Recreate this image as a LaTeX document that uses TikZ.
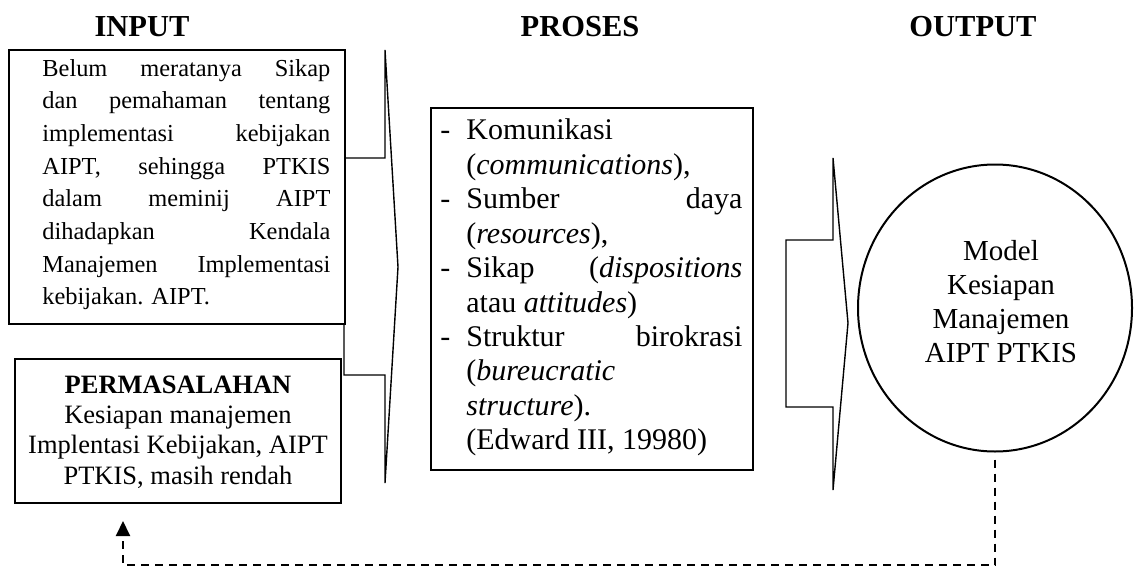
\documentclass[tikz,border=0pt]{standalone}
\usepackage{fontspec}
\setmainfont{Liberation Serif}
\usetikzlibrary{arrows.meta,shapes.geometric}
\begin{document}
\begin{tikzpicture}[x=0.5pt,y=-0.5pt,
  box/.style={draw, line width=1pt, fill=white, inner sep=0pt},
  blockarrow/.style={draw, line width=0.7pt, line join=miter, fill=white},
  heading/.style={font=\fontsize{15.25pt}{18pt}\selectfont\bfseries, anchor=base, inner sep=0pt},
  txt/.style={inner sep=0pt},
  feedback/.style={draw, line width=1pt, dash pattern=on 4pt off 3pt, -{Triangle[width=7pt,length=7.5pt]}}]
\useasboundingbox (0,0) rectangle (1134,567);

% headings
\node[heading] (hin) at (142,37) {INPUT};
\node[heading] (hpr) at (580,37) {PROSES};
\node[heading] (hout) at (973,37) {OUTPUT};

% block arrows
\draw[blockarrow] (344,158) -- (385,158) -- (385,50) -- (398,267) -- (385,483) -- (385,375) -- (344,375) -- cycle;
\draw[blockarrow] (786,240) -- (833,240) -- (833,158) -- (848,323) -- (833,490) -- (833,407) -- (786,407) -- cycle;

% input box
\node[box, minimum width=168pt, minimum height=137pt] (box1) at (177,187) {};
\node[txt, anchor=base west, font=\fontsize{12.2pt}{16.35pt}\selectfont] (box1txt) at (42,76) {\parbox[t]{144pt}{%
\makebox[\linewidth][s]{Belum meratanya Sikap}\\
\makebox[\linewidth][s]{dan pemahaman tentang}\\
\makebox[\linewidth][s]{implementasi kebijakan}\\
\makebox[\linewidth][s]{AIPT, sehingga PTKIS}\\
\makebox[\linewidth][s]{dalam meminij AIPT}\\
\makebox[\linewidth][s]{dihadapkan Kendala}\\
\makebox[\linewidth][s]{Manajemen Implementasi}\\
kebijakan. AIPT.}};

% permasalahan box
\node[box, minimum width=163pt, minimum height=72pt] (box2) at (178,431) {};
\node[txt, anchor=base, font=\fontsize{13.25pt}{15.2pt}\selectfont] (box2txt) at (178,393) {\parbox[t]{160pt}{\centering
\textbf{PERMASALAHAN}\\
Kesiapan manajemen\\
Implentasi Kebijakan, AIPT\\
PTKIS, masih rendah}};

% process box
\node[box, minimum width=161pt, minimum height=181pt] (proc) at (592,289) {};
\newcommand{\dashitem}[1]{\llap{\makebox[13pt][l]{-}}#1}
\node[txt, anchor=base west, font=\fontsize{15pt}{17.2pt}\selectfont] (proctxt) at (466,140) {\parbox[t]{138pt}{\leavevmode
\dashitem{Komunikasi}\\
(\textit{communications}),\\
\dashitem{\makebox[\linewidth][s]{Sumber daya}}\\
(\textit{resources}),\\
\dashitem{\makebox[\linewidth][s]{Sikap (\textit{dispositions}}}\\
atau \textit{attitudes})\\
\dashitem{\makebox[\linewidth][s]{Struktur birokrasi}}\\
(\textit{bureucratic}\\
\textit{structure}).\\
(Edward III, 19980)}};

% output ellipse
\node[draw, line width=1pt, ellipse, minimum width=137pt, minimum height=143.5pt, inner sep=0pt] (circ) at (995,308) {};
\node[txt, anchor=base, font=\fontsize{14.5pt}{17.15pt}\selectfont] (circtxt) at (1001,260) {\parbox[t]{110pt}{\centering
Model\\Kesiapan\\Manajemen\\AIPT PTKIS}};

% feedback
\coordinate (fbcorner) at (123,565);
\coordinate (fbend) at ([yshift=-8.5pt]box2.south -| fbcorner);
\draw[feedback] ([yshift=-3.5pt]circ.south) |- (fbcorner) -- (fbend);
\end{tikzpicture}
\end{document}
